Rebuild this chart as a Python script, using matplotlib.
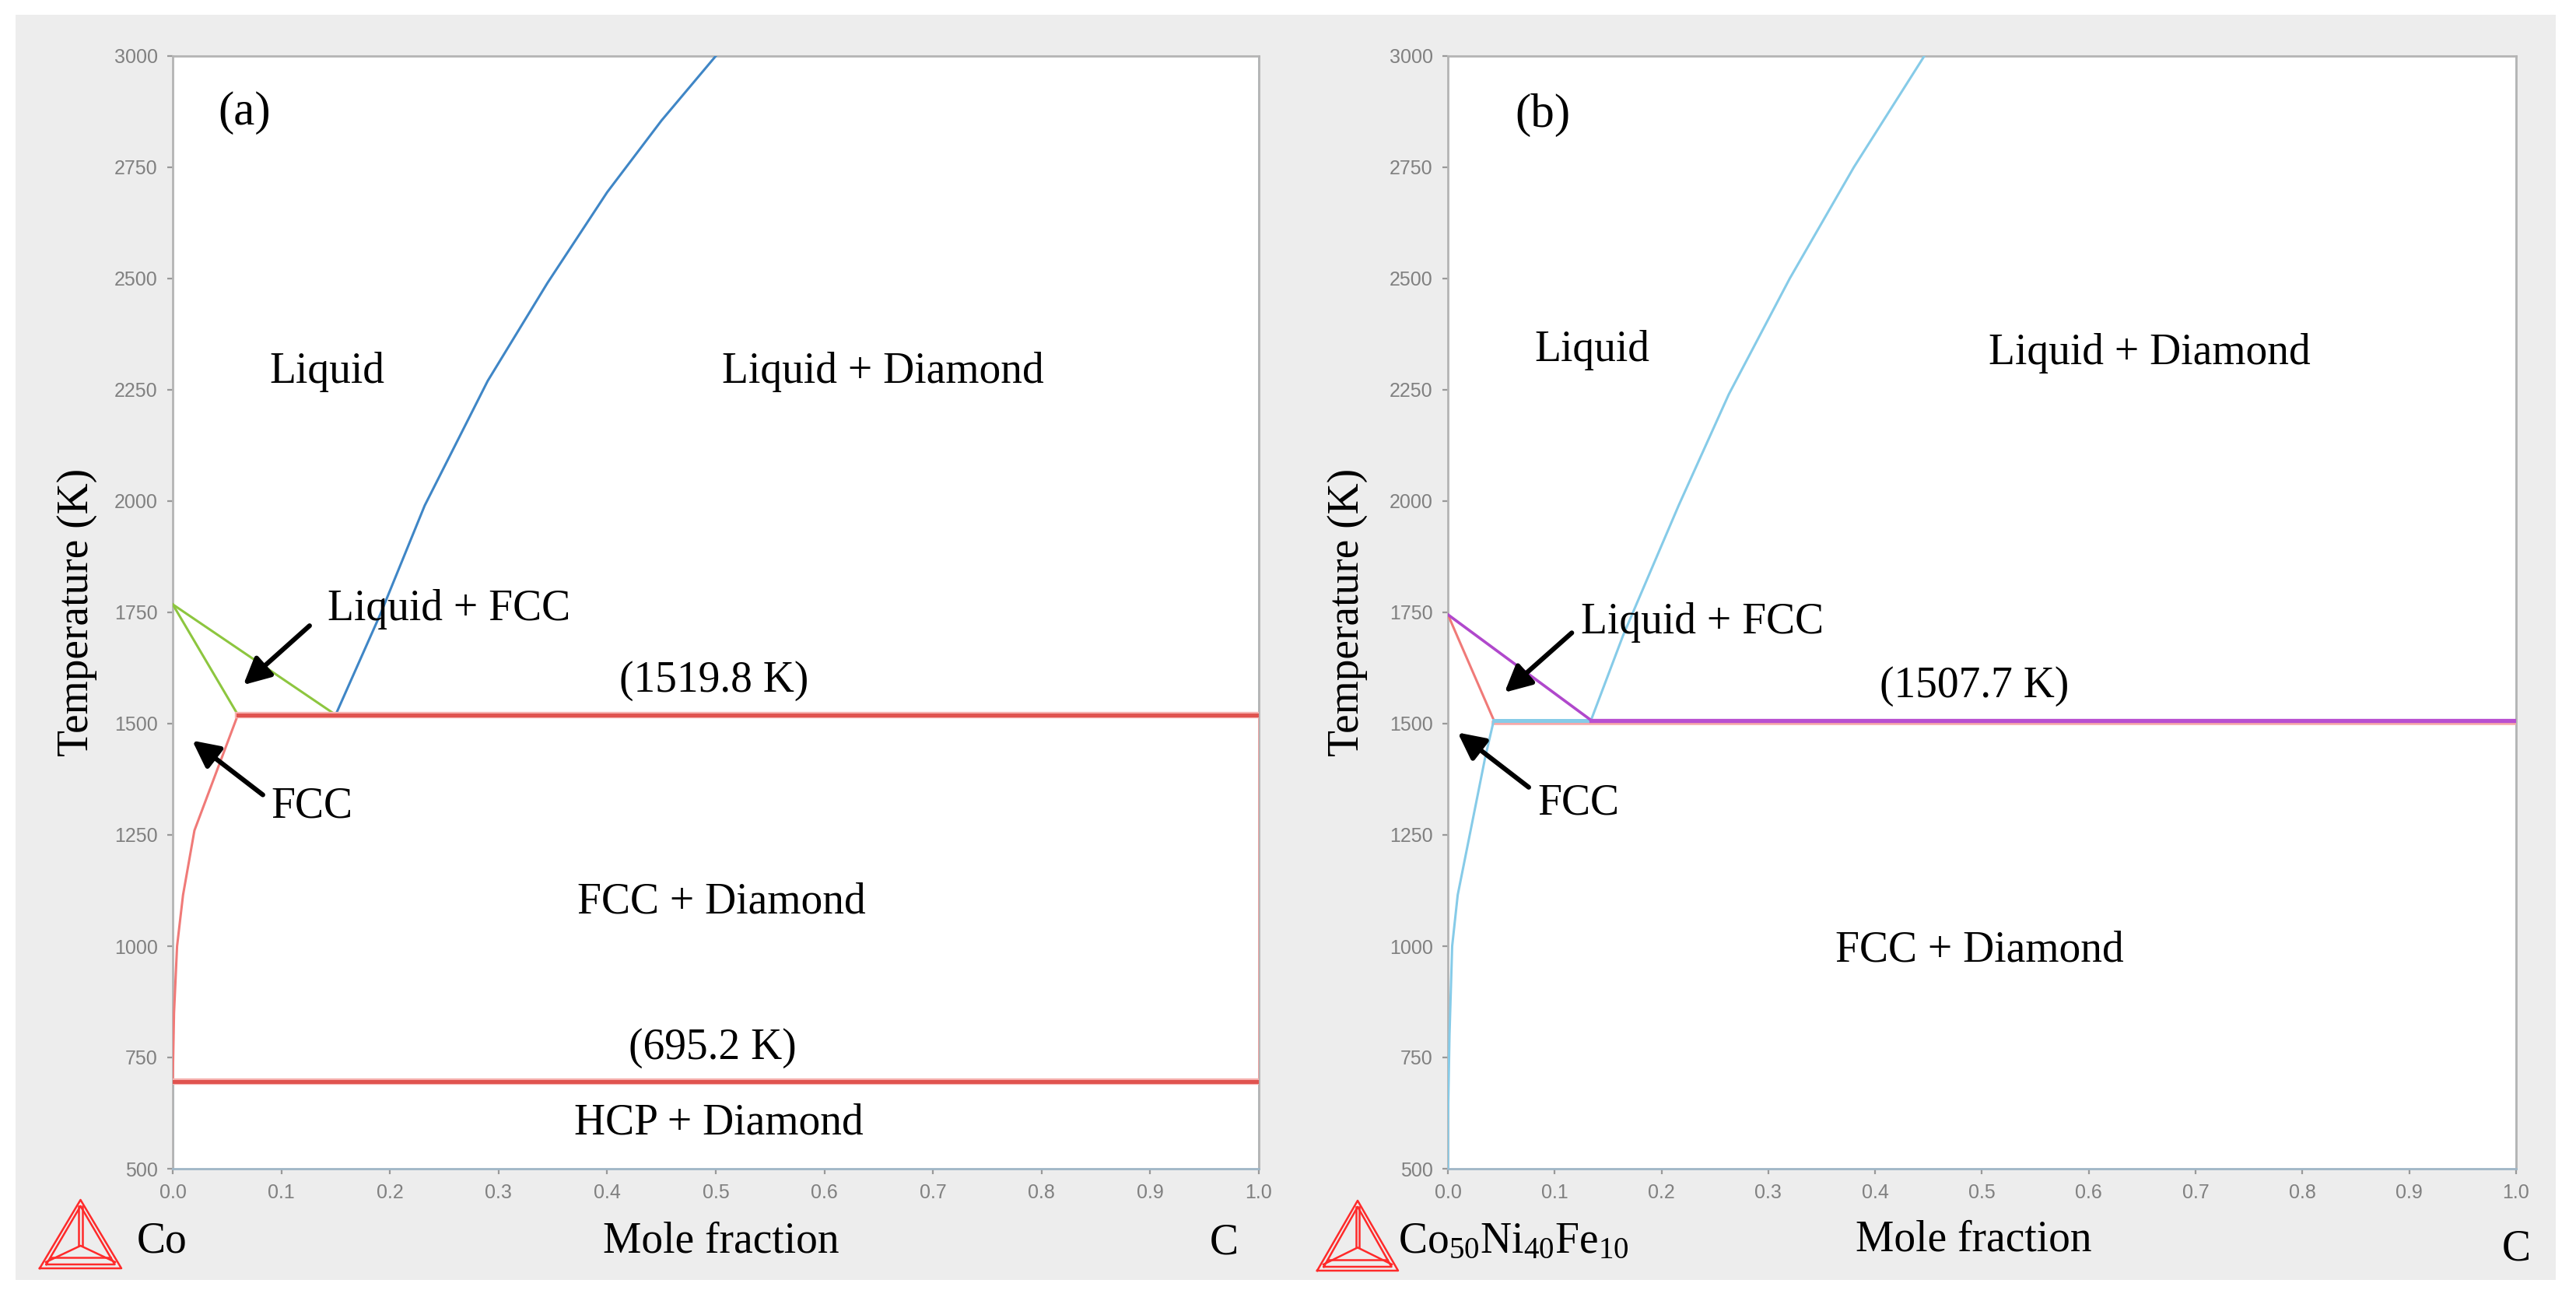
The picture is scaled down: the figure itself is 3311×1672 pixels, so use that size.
import matplotlib.pyplot as plt
from matplotlib.patches import Rectangle
from matplotlib.lines import Line2D
import numpy as np

plt.rcParams['font.family'] = ['Liberation Serif', 'DejaVu Serif']
plt.rcParams['mathtext.fontset'] = 'custom'
plt.rcParams['mathtext.rm'] = 'Liberation Serif'
plt.rcParams['mathtext.it'] = 'Liberation Serif'

# ---------------- (a) Co - C ----------------
a_liq_x = [0.150, 0.191, 0.232, 0.290, 0.345, 0.400, 0.450, 0.500]
a_liq_t = [1519.8, 1745, 1990, 2270, 2490, 2694, 2855, 3000]
a_fcc_liq_x = [0.0, 0.150]          # liquidus of FCC
a_fcc_liq_t = [1768, 1519.8]
a_fcc_sol_x = [0.0, 0.060]          # solidus of FCC
a_fcc_sol_t = [1768, 1519.8]
a_solvus_x = [0.060, 0.040, 0.020, 0.0095, 0.004, 0.0012, 0.0]
a_solvus_t = [1519.8, 1390, 1260, 1115, 1000, 850, 695.2]
a_eutectic_t = 1519.8
a_eutectic_x = [0.060, 1.0]
a_hcp_t = 695.2
a_hcp_x = [0.0, 1.0]
a_edge_x = [1.0, 1.0, 1.0, 1.0]
a_edge_t = [500, 695.2, 1519.8, 3000]
a_left_edge_t = [500, 695.2]

# ---------------- (b) Co50Ni40Fe10 - C ----------------
b_liq_x = [0.134, 0.164, 0.216, 0.263, 0.320, 0.380, 0.446]
b_liq_t = [1507.7, 1698, 1990, 2240, 2500, 2750, 3000]
b_fcc_liq_x = [0.0, 0.134]
b_fcc_liq_t = [1745, 1507.7]
b_fcc_sol_x = [0.0, 0.043]
b_fcc_sol_t = [1745, 1507.7]
b_solvus_x = [0.043, 0.035, 0.0092, 0.004, 0.0015, 0.0, 0.0]
b_solvus_t = [1507.7, 1425, 1115, 1000, 800, 600, 500]
b_eutectic_t = 1507.7
b_tie_x = [0.043, 0.134]
b_eutectic_x = [0.134, 1.0]
b_under_x = [0.043, 1.0]

y_ticks = np.arange(500, 3001, 250)
x_ticks = np.round(np.arange(0, 1.01, 0.1), 1)

fig = plt.figure(figsize=(16.56, 8.36), dpi=200)
fig.patch.set_facecolor('white')
fig.patches.append(Rectangle((0.006, 0.0161), 0.9858, 0.9725, transform=fig.transFigure,
                             facecolor='#ededed', edgecolor='none', zorder=-5))

ax1 = fig.add_axes([222 / 3312, 1 - 1502 / 1672, 1396 / 3312, 1430 / 1672])
ax2 = fig.add_axes([1861 / 3312, 1 - 1502 / 1672, 1373 / 3312, 1430 / 1672])

for ax in (ax1, ax2):
    ax.set_facecolor('white')
    ax.set_xlim(0, 1)
    ax.set_ylim(500, 3000)
    ax.set_xticks(x_ticks)
    ax.set_xticklabels([f'{v:.1f}' for v in x_ticks])
    ax.set_yticks(y_ticks)
    ax.tick_params(direction='out', length=2.5, width=0.8, color='#999999',
                   labelcolor='#808080', labelsize=9, pad=4.5)
    for lab in ax.get_xticklabels() + ax.get_yticklabels():
        lab.set_family(['Liberation Sans Narrow', 'Liberation Sans', 'DejaVu Sans'])
    for s in ax.spines.values():
        s.set_color('#b4b4b4')
        s.set_linewidth(1.0)
    ax.spines['bottom'].set_color('#9fb6c6')

# ----- panel (a) lines -----
ax1.plot(a_edge_x, a_edge_t, color='#9cc3dc', lw=1.0, zorder=2)
ax1.plot([0.0, 0.0], a_left_edge_t, color='#9cc3dc', lw=1.0, zorder=2)
ax1.plot(a_edge_x[1:3], a_edge_t[1:3], color='#f2a0a0', lw=1.0, zorder=3)
ax1.plot(a_liq_x, a_liq_t, color='#3f86c6', lw=1.1, zorder=3)
ax1.plot(a_fcc_liq_x, a_fcc_liq_t, color='#8dc63f', lw=1.1, zorder=3)
ax1.plot(a_fcc_sol_x, a_fcc_sol_t, color='#8dc63f', lw=1.1, zorder=3)
ax1.plot(a_solvus_x, a_solvus_t, color='#f07a78', lw=1.1, zorder=3)
ax1.plot(a_eutectic_x, [a_eutectic_t] * 2, color='#f6b2b0', lw=3.0, zorder=3)
ax1.plot(a_eutectic_x, [a_eutectic_t] * 2, color='#e0534f', lw=1.8, zorder=4)
ax1.plot(a_hcp_x, [a_hcp_t] * 2, color='#f6b2b0', lw=3.0, zorder=3)
ax1.plot(a_hcp_x, [a_hcp_t] * 2, color='#e0534f', lw=1.8, zorder=4)

txt = dict(fontsize=20, color='black', ha='center', va='center', zorder=6)
ax1.text(0.042, 2872, '(a)', fontsize=22, ha='left', va='center')
ax1.text(0.142, 2291, 'Liquid', **txt)
ax1.text(0.654, 2291, 'Liquid + Diamond', **txt)
ax1.text(0.254, 1757, 'Liquid + FCC', **txt)
ax1.text(0.128, 1313, 'FCC', **txt)
ax1.text(0.498, 1597, '(1519.8 K)', **txt)
ax1.text(0.505, 1098, 'FCC + Diamond', **txt)
ax1.text(0.497, 771, '(695.2 K)', **txt)
ax1.text(0.503, 603, 'HCP + Diamond', **txt)

arrow = dict(arrowstyle='-|>', color='black', lw=2.2, mutation_scale=26,
             shrinkA=0, shrinkB=0)
ax1.annotate('', xy=(0.065, 1587), xytext=(0.126, 1720), arrowprops=arrow, zorder=6)
ax1.annotate('', xy=(0.018, 1462), xytext=(0.083, 1340), arrowprops=arrow, zorder=6)

# ----- panel (b) lines -----
ax2.plot([1.0, 1.0], [500, 3000], color='#b4c8d6', lw=1.0, zorder=2)
ax2.plot(b_under_x, [b_eutectic_t - 6] * 2, color='#f6a8a8', lw=2.0, zorder=3)
ax2.plot(b_liq_x, b_liq_t, color='#86cbe8', lw=1.1, zorder=3)
ax2.plot(b_solvus_x, b_solvus_t, color='#86cbe8', lw=1.1, zorder=3)
ax2.plot(b_tie_x, [b_eutectic_t] * 2, color='#86cbe8', lw=1.8, zorder=4)
ax2.plot(b_fcc_sol_x, b_fcc_sol_t, color='#f07a78', lw=1.1, zorder=3)
ax2.plot(b_fcc_liq_x, b_fcc_liq_t, color='#b048cc', lw=1.3, zorder=4)
ax2.plot(b_eutectic_x, [b_eutectic_t] * 2, color='#b84fd0', lw=1.9, zorder=4)

ax2.text(0.063, 2867, '(b)', fontsize=22, ha='left', va='center')
ax2.text(0.135, 2339, 'Liquid', **txt)
ax2.text(0.657, 2332, 'Liquid + Diamond', **txt)
ax2.text(0.238, 1727, 'Liquid + FCC', **txt)
ax2.text(0.122, 1320, 'FCC', **txt)
ax2.text(0.493, 1584, '(1507.7 K)', **txt)
ax2.text(0.498, 991, 'FCC + Diamond', **txt)

ax2.annotate('', xy=(0.053, 1570), xytext=(0.116, 1704), arrowprops=arrow, zorder=6)
ax2.annotate('', xy=(0.0092, 1480), xytext=(0.0757, 1357), arrowprops=arrow, zorder=6)

# axis titles
ax1.text(-0.088, 0.5, 'Temperature (K)', transform=ax1.transAxes, rotation=90,
         fontsize=20, ha='center', va='center')
ax2.text(-0.094, 0.5, 'Temperature (K)', transform=ax2.transAxes, rotation=90,
         fontsize=20, ha='center', va='center')
fig.text(927 / 3312, 1 - 1596 / 1672, 'Mole fraction', fontsize=20, ha='center', va='center')
fig.text(2537 / 3312, 1 - 1593 / 1672, 'Mole fraction', fontsize=20, ha='center', va='center')
fig.text(1573 / 3312, 1 - 1598 / 1672, 'C', fontsize=20, ha='center', va='center')
fig.text(3234 / 3312, 1 - 1606 / 1672, 'C', fontsize=20, ha='center', va='center')
fig.text(176 / 3312, 1 - 1596 / 1672, 'Co', fontsize=20, ha='left', va='center')
fig.text(1797 / 3312, 1 - 1596 / 1672, r'Co$_{50}$Ni$_{40}$Fe$_{10}$', fontsize=20,
         ha='left', va='center')


def draw_logo(x0, x1, y0, y1):
    # red Thermo-Calc style triangle
    W, H = 3312, 1672
    cx = (x0 + x1) / 2
    cy = y1 - (y1 - y0) * 0.33
    segs = []
    for d in (0, 5):
        segs.append(([x0 + d * 1.7, cx, x1 - d * 1.7, x0 + d * 1.7],
                     [y1 - d, y0 + d * 1.6, y1 - d, y1 - d]))
    segs.append(([cx - 2, cx - 2], [y0 + 8, cy]))
    segs.append(([cx + 2, cx + 2], [y0 + 8, cy]))
    segs.append(([x0 + 8, cx, x1 - 8], [y1 - 8, cy, y1 - 8]))
    segs.append(([x0 + 14, x1 - 14], [y1 - 14, y1 - 14]))
    for xs, ys in segs:
        fig.lines.append(Line2D([v / W for v in xs], [1 - v / H for v in ys],
                                transform=fig.transFigure, color='#ff2a2a', lw=0.9))


draw_logo(51, 156, 1542, 1630)
draw_logo(1693, 1797, 1543, 1633)

fig.savefig('out.png', dpi=200)
